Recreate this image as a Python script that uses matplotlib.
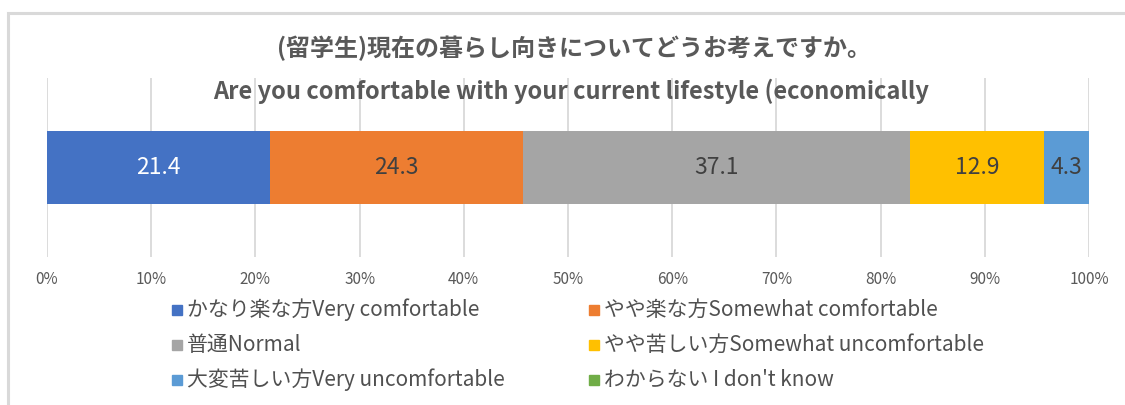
import matplotlib.pyplot as plt
from matplotlib.patches import Rectangle
import numpy as np

plt.rcParams['font.family'] = ['Noto Sans CJK JP', 'DejaVu Sans']

categories = [
    "かなり楽な方Very comfortable",
    "やや楽な方Somewhat comfortable",
    "普通Normal",
    "やや苦しい方Somewhat uncomfortable",
    "大変苦しい方Very uncomfortable",
    "わからない I don't know",
]
values = [21.4, 24.3, 37.1, 12.9, 4.3, 0.0]
colors = ["#4472C4", "#ED7D31", "#A5A5A5", "#FFC000", "#5B9BD5", "#70AD47"]
label_colors = ["white", "#404040", "#404040", "#404040", "#404040", "#404040"]
ticks = np.arange(0, 101, 10)

W, H = 1125, 405
fig = plt.figure(figsize=(W / 100, H / 100), dpi=100)

# chart frame (only top and left edges are in view)
fig.patches.append(Rectangle((7.5 / W, -0.1), 1.2, 1 - 12.5 / H + 0.1,
                             transform=fig.transFigure, fill=False,
                             edgecolor="#D9D9D9", linewidth=2.2))

ax = fig.add_axes([47 / W, 148 / H, 1042 / W, 179 / H])

left = 0
for v, c, lc in zip(values, colors, label_colors):
    ax.barh(0, v, left=left, height=0.41, color=c, zorder=3)
    if v > 0:
        ax.text(left + v / 2, 0, f"{v:.1f}", ha="center", va="center",
                fontsize=16.5, color=lc, zorder=4)
    left += v

ax.set_xlim(0, 100)
ax.set_ylim(-0.5, 0.5)
ax.set_xticks(ticks)
ax.set_xticklabels([f"{t}%" for t in ticks], fontsize=11, color="#595959")
ax.set_yticks([])
ax.tick_params(axis="x", length=0, pad=10)
ax.grid(axis="x", color="#D9D9D9", linewidth=1.3, zorder=0)
for s in ax.spines.values():
    s.set_visible(False)

fig.text(574 / W, 1 - 48 / H, "(留学生)現在の暮らし向きについてどうお考えですか。",
         ha="center", va="center", fontsize=17.3, fontweight="bold", color="#595959")
fig.text(571 / W, 1 - 91 / H, "Are you comfortable with your current lifestyle (economically",
         ha="center", va="center", fontsize=17, fontweight="bold", color="#595959")

# legend, two columns
col_x = [172, 589]
row_y = [310, 345, 380]
for i, (lab, c) in enumerate(zip(categories, colors)):
    x = col_x[i % 2]
    y = row_y[i // 2]
    fig.patches.append(Rectangle((x / W, 1 - (y + 5) / H), 10 / W, 10 / H,
                                 transform=fig.transFigure, color=c))
    fig.text((x + 15) / W, 1 - y / H, lab, ha="left", va="center",
             fontsize=15, color="#505050")

fig.savefig("out.png", dpi=100)
